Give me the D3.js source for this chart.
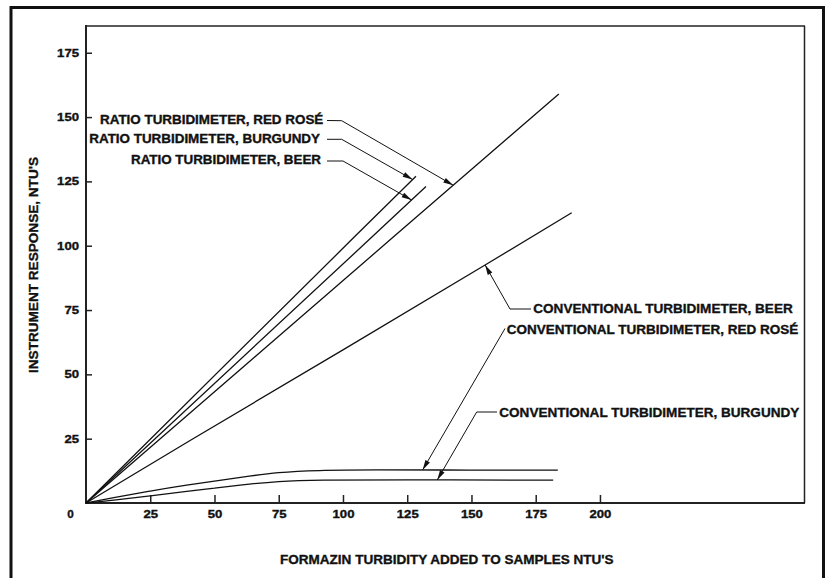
<!DOCTYPE html>
<html>
<head>
<meta charset="utf-8">
<script src="https://cdn.jsdelivr.net/npm/d3@7"></script>
<style>
  html, body { margin: 0; padding: 0; background: #fff; }
  svg { display: block; }
  text { font-family: "Liberation Sans", Arial, Helvetica, sans-serif; font-weight: bold; fill: #111; stroke: #111; stroke-width: 0.35px; }
</style>
</head>
<body>
<svg id="chart" width="826" height="578"></svg>
<script>
// ---------------- DATA ----------------
const xTickValues = [25, 50, 75, 100, 125, 150, 175, 200];
const yTickValues = [25, 50, 75, 100, 125, 150, 175];

const ratioRedRoseX   = [0, 118, 184];
const ratioRedRoseY   = [0, 102, 159];
const ratioBurgundyX  = [0, 103, 128.4];
const ratioBurgundyY  = [0, 102, 127];
const ratioBeerX      = [0, 110, 132.3];
const ratioBeerY      = [0, 102.2, 123];
const convBeerX       = [0, 40.5, 100, 155.3, 189];
const convBeerY       = [0, 24.3, 59.5, 92.5, 112.8];
const convRedRoseX    = [0, 10, 25, 40, 50, 60, 75, 90, 110, 150, 183.6];
const convRedRoseY    = [0, 1.9, 4.7, 7.1, 8.5, 10, 12, 12.7, 12.9, 12.8, 12.8];
const convBurgundyX   = [0, 10, 25, 40, 50, 60, 75, 90, 120, 181.8];
const convBurgundyY   = [0, 1, 2.7, 4.6, 5.8, 7, 8.5, 9, 9, 8.9];

const seriesNames = [
  "RATIO TURBIDIMETER, RED ROSÉ",
  "RATIO TURBIDIMETER, BURGUNDY",
  "RATIO TURBIDIMETER, BEER",
  "CONVENTIONAL TURBIDIMETER, BEER",
  "CONVENTIONAL TURBIDIMETER, RED ROSÉ",
  "CONVENTIONAL TURBIDIMETER, BURGUNDY"
];
const xTitle = "FORMAZIN TURBIDITY ADDED TO SAMPLES NTU'S";
const yTitle = "INSTRUMENT RESPONSE, NTU'S";

// ---------------- LAYOUT ----------------
const plot = { left: 86, top: 26, right: 804, bottom: 503 };
const x = d3.scaleLinear().domain([0, 279.4]).range([plot.left, plot.right]);
const y = d3.scaleLinear().domain([0, 185.4]).range([plot.bottom, plot.top]);

const svg = d3.select("#chart");
svg.append("rect").attr("width", 826).attr("height", 578).attr("fill", "#fff");

// outer frame
svg.append("rect")
  .attr("x", 11).attr("y", 7.5).attr("width", 812.5).attr("height", 620)
  .attr("fill", "none").attr("stroke", "#111").attr("stroke-width", 3);

// inner frame
const frame = svg.append("g").attr("stroke", "#222").attr("fill", "none");
frame.append("line").attr("x1", plot.left).attr("x2", plot.right + 1).attr("y1", plot.top).attr("y2", plot.top).attr("stroke-width", 1.5);
frame.append("line").attr("x1", plot.right + 0.5).attr("x2", plot.right + 0.5).attr("y1", plot.top).attr("y2", plot.bottom).attr("stroke-width", 1.5);
frame.append("line").attr("x1", plot.left).attr("x2", plot.left).attr("y1", plot.top - 1).attr("y2", plot.bottom + 1).attr("stroke-width", 2);
frame.append("line").attr("x1", plot.left - 1).attr("x2", plot.right + 1).attr("y1", plot.bottom).attr("y2", plot.bottom).attr("stroke-width", 2);

// axes
const tickFont = 10.5;
const xAxis = d3.axisBottom(x).tickValues(xTickValues).tickSize(-8).tickPadding(7.3).tickFormat(d3.format("d"));
const yAxis = d3.axisLeft(y).tickValues(yTickValues).tickSize(-6).tickPadding(7).tickFormat(d3.format("d"));

const gx = svg.append("g").attr("transform", `translate(0,${plot.bottom})`).call(xAxis);
const gy = svg.append("g").attr("transform", `translate(${plot.left},0)`).call(yAxis);
[gx, gy].forEach(g => {
  g.select(".domain").remove();
  g.selectAll(".tick line").attr("stroke", "#222").attr("stroke-width", 1.5);
  g.selectAll(".tick text")
    .attr("font-size", tickFont)
    .attr("font-family", "Liberation Sans, Arial, sans-serif")
    .attr("font-weight", "bold")
    .attr("fill", "#111")
    .attr("textLength", function() { return this.textContent.length * 7.3; })
    .attr("lengthAdjust", "spacingAndGlyphs");
});
// shared origin label
svg.append("text")
  .attr("x", 70.5).attr("y", 517.7)
  .attr("text-anchor", "middle").attr("font-size", tickFont)
  .attr("textLength", 6.5).attr("lengthAdjust", "spacingAndGlyphs")
  .text("0");

// axis titles
svg.append("text")
  .attr("x", 446.8).attr("y", 563.7)
  .attr("text-anchor", "middle").attr("font-size", 13)
  .attr("textLength", 333.6).attr("lengthAdjust", "spacingAndGlyphs")
  .text(xTitle);
svg.append("text")
  .attr("transform", "translate(38.3,265) rotate(-90)")
  .attr("text-anchor", "middle").attr("font-size", 13)
  .attr("textLength", 216).attr("lengthAdjust", "spacingAndGlyphs")
  .text(yTitle);

// ---------------- SERIES ----------------
const zip = (xs, ys) => xs.map((v, i) => [v, ys[i]]);
const series = [
  { pts: zip(ratioRedRoseX, ratioRedRoseY), curve: d3.curveLinear },
  { pts: zip(ratioBurgundyX, ratioBurgundyY), curve: d3.curveLinear },
  { pts: zip(ratioBeerX, ratioBeerY), curve: d3.curveLinear },
  { pts: zip(convBeerX, convBeerY), curve: d3.curveLinear },
  { pts: zip(convRedRoseX, convRedRoseY), curve: d3.curveBasis },
  { pts: zip(convBurgundyX, convBurgundyY), curve: d3.curveBasis }
];
series.forEach(s => {
  const line = d3.line().x(d => x(d[0])).y(d => y(d[1])).curve(s.curve);
  svg.append("path").attr("d", line(s.pts))
    .attr("fill", "none").attr("stroke", "#111").attr("stroke-width", 1.3);
});

function valueAt(pts, xv) {
  for (let i = 1; i < pts.length; i++) {
    if (xv <= pts[i][0]) {
      const t = (xv - pts[i-1][0]) / (pts[i][0] - pts[i-1][0]);
      return pts[i-1][1] + t * (pts[i][1] - pts[i-1][1]);
    }
  }
  return pts[pts.length - 1][1];
}

// ---------------- CALLOUTS ----------------
const callouts = [
  { s: 0, tx: 142.9, font: 12.5, x0: 100,   x1: 323.3, base: 124.3, leader: [[327, 120.5], [341.7, 120.7]] },
  { s: 1, tx: 127.1, font: 12.5, x0: 89.3,  x1: 320,   base: 143.3, leader: [[327, 139.3], [341.7, 139.3]] },
  { s: 2, tx: 126.7, font: 12.5, x0: 131,   x1: 321,   base: 164.3, leader: [[327, 161],   [343, 161]] },
  { s: 3, tx: 155.3, font: 13,   x0: 533.3, x1: 792.7, base: 313.3, leader: [[531, 309],   [510, 309]] },
  { s: 4, tx: 131,   font: 13,   x0: 506.7, x1: 798.3, base: 334.3, leader: [[505, 328.5]] },
  { s: 5, tx: 136.7, font: 13,   x0: 499.3, x1: 799.3, base: 416.7, leader: [[497, 412],   [476.7, 412]] }
];

callouts.forEach(c => {
  svg.append("text")
    .attr("x", c.x0).attr("y", c.base)
    .attr("font-size", c.font)
    .attr("textLength", c.x1 - c.x0).attr("lengthAdjust", "spacingAndGlyphs")
    .text(seriesNames[c.s]);
  const tip = [x(c.tx), y(valueAt(series[c.s].pts, c.tx))];
  const pts = c.leader.concat([tip]);
  svg.append("path").attr("d", d3.line()(pts))
    .attr("fill", "none").attr("stroke", "#111").attr("stroke-width", 1);
  const from = pts[pts.length - 2];
  const dx = tip[0] - from[0], dy = tip[1] - from[1];
  const len = Math.hypot(dx, dy);
  const ux = dx / len, uy = dy / len, nx = -uy, ny = ux;
  const L = 10, W = 2.6;
  const head = [
    tip,
    [tip[0] - ux * L + nx * W, tip[1] - uy * L + ny * W],
    [tip[0] - ux * L - nx * W, tip[1] - uy * L - ny * W]
  ];
  svg.append("path").attr("d", d3.line()(head) + "Z").attr("fill", "#111");
});
</script>
</body>
</html>
